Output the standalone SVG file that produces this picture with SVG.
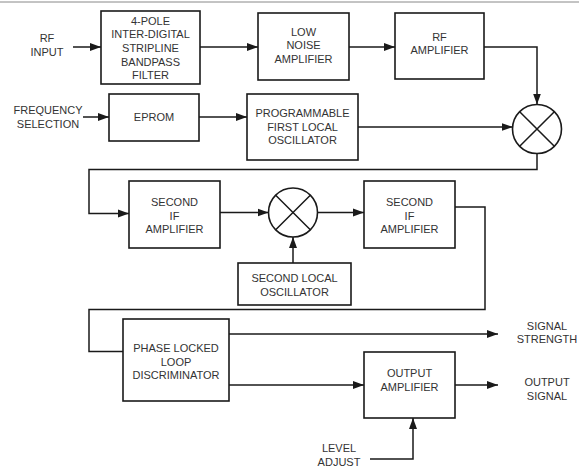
<svg xmlns="http://www.w3.org/2000/svg" width="579" height="467" viewBox="0 0 579 467">
<defs>
<marker id="ah" markerWidth="12" markerHeight="10" refX="11" refY="4.5" orient="auto" markerUnits="userSpaceOnUse">
<path d="M0,0.5 L11,4.5 L0,8.5 Z" fill="#1a1a1a"/>
</marker>
<style>
.box{fill:#fff;stroke:#1a1a1a;stroke-width:1.6}
.ln{fill:none;stroke:#1a1a1a;stroke-width:1.5}
.arr{fill:none;stroke:#1a1a1a;stroke-width:1.5;marker-end:url(#ah)}
text{font-family:"Liberation Sans",Arial,sans-serif;font-size:11px;fill:#333;text-anchor:middle}
</style>
</defs>
<rect width="579" height="467" fill="#fff"/>
<line x1="0" y1="2" x2="579" y2="2" stroke="#888" stroke-width="1"/>

<g id="connectors">
<line class="arr" x1="73" y1="47" x2="101" y2="47"/>
<line class="arr" x1="200" y1="47" x2="258" y2="47"/>
<line class="arr" x1="349" y1="47" x2="395" y2="47"/>
<polyline class="arr" points="484,47 537,47 537,104.5"/>
<line class="arr" x1="83" y1="117" x2="109" y2="117"/>
<line class="arr" x1="199" y1="117" x2="247" y2="117"/>
<line class="arr" x1="358" y1="127" x2="512.5" y2="127"/>
<polyline class="arr" points="537,153.5 537,169.5 89,169.5 89,213.5 129,213.5"/>
<line class="arr" x1="220" y1="212.5" x2="268.5" y2="212.5"/>
<line class="arr" x1="293" y1="263" x2="293" y2="237"/>
<line class="arr" x1="317.5" y1="212.5" x2="364" y2="212.5"/>
<polyline class="ln" points="455,207 485,207 485,309.5 89,309.5 89,351.5 123,351.5"/>
<line class="arr" x1="229" y1="334" x2="498" y2="334"/>
<line class="arr" x1="229" y1="385" x2="364" y2="385"/>
<line class="arr" x1="455" y1="385" x2="498" y2="385"/>
<polyline class="arr" points="370,459 413,459 413,418"/>
</g>

<g id="rf-input"><text x="47" y="42">RF</text><text x="47" y="56">INPUT</text></g>
<g id="filter">
<rect class="box" x="101" y="11" width="99" height="73"/>
<text x="150.5" y="25">4-POLE</text>
<text x="150.5" y="38">INTER-DIGITAL</text>
<text x="150.5" y="52">STRIPLINE</text>
<text x="150.5" y="66">BANDPASS</text>
<text x="150.5" y="79">FILTER</text>
</g>
<g id="lna">
<rect class="box" x="258" y="13" width="91" height="67"/>
<text x="303.5" y="36">LOW</text>
<text x="303.5" y="49">NOISE</text>
<text x="303.5" y="63">AMPLIFIER</text>
</g>
<g id="rf-amp">
<rect class="box" x="395" y="13" width="89" height="66"/>
<text x="439.5" y="41">RF</text>
<text x="439.5" y="54">AMPLIFIER</text>
</g>
<g id="freq-sel"><text x="48" y="114">FREQUENCY</text><text x="48" y="128">SELECTION</text></g>
<g id="eprom">
<rect class="box" x="109" y="94" width="90" height="47"/>
<text x="154" y="121">EPROM</text>
</g>
<g id="pflo">
<rect class="box" x="247" y="94" width="111" height="66"/>
<text x="302.5" y="117">PROGRAMMABLE</text>
<text x="302.5" y="131">FIRST LOCAL</text>
<text x="302.5" y="144">OSCILLATOR</text>
</g>
<g id="mixer1">
<circle class="box" cx="537" cy="129" r="24.5"/>
<path class="ln" d="M519.7,111.7 L554.3,146.3 M554.3,111.7 L519.7,146.3"/>
</g>
<g id="sif1">
<rect class="box" x="129" y="181" width="91" height="67"/>
<text x="174.5" y="206">SECOND</text>
<text x="174.5" y="220">IF</text>
<text x="174.5" y="233">AMPLIFIER</text>
</g>
<g id="mixer2">
<circle class="box" cx="293" cy="212.5" r="24.5"/>
<path class="ln" d="M275.7,195.2 L310.3,229.8 M310.3,195.2 L275.7,229.8"/>
</g>
<g id="slo">
<rect class="box" x="238" y="263" width="113" height="42"/>
<text x="294.5" y="282">SECOND LOCAL</text>
<text x="294.5" y="296">OSCILLATOR</text>
</g>
<g id="sif2">
<rect class="box" x="364" y="181" width="91" height="67"/>
<text x="409.5" y="206">SECOND</text>
<text x="409.5" y="220">IF</text>
<text x="409.5" y="233">AMPLIFIER</text>
</g>
<g id="pll">
<rect class="box" x="123" y="319" width="106" height="82"/>
<text x="176" y="352">PHASE LOCKED</text>
<text x="176" y="366">LOOP</text>
<text x="176" y="379">DISCRIMINATOR</text>
</g>
<g id="sig-strength"><text x="547" y="330">SIGNAL</text><text x="547" y="343">STRENGTH</text></g>
<g id="out-amp">
<rect class="box" x="364" y="352" width="91" height="66"/>
<text x="409.5" y="377">OUTPUT</text>
<text x="409.5" y="391">AMPLIFIER</text>
</g>
<g id="out-signal"><text x="547" y="386">OUTPUT</text><text x="547" y="400">SIGNAL</text></g>
<g id="level-adjust"><text x="339" y="452">LEVEL</text><text x="339" y="466">ADJUST</text></g>
</svg>
